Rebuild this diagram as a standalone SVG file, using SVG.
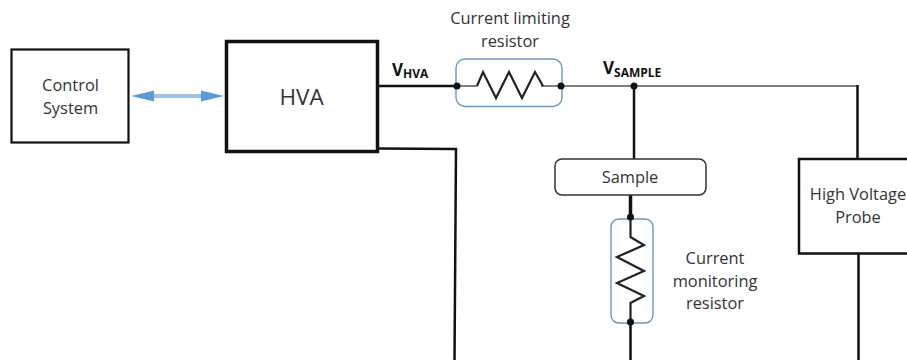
<svg xmlns="http://www.w3.org/2000/svg" width="907" height="360" viewBox="0 0 907 360">
<style>
text{font-family:"Open Sans","Noto Sans","Liberation Sans",sans-serif;fill:#333;font-size:16.400px;text-anchor:middle}
.w{fill:none;stroke:#111;stroke-width:2.500}
.t{fill:none;stroke:#555;stroke-width:1.500}
.r{fill:none;stroke:#222;stroke-width:2.200}
.h{fill:none;stroke:#6a97bd;stroke-width:1.400}
.d{fill:#111}
.b{font-weight:700;fill:#111;text-anchor:start}
</style>
<rect width="907" height="360" fill="#fff"/>
<g id="connectors">
<path class="w" d="M378 86H457"/>
<path class="t" d="M457 86H477M541 86H561"/>
<path class="t" d="M561 86H857"/>
<path class="w" d="M857.500 85V159"/>
<path class="w" d="M634 86V159"/>
<path d="M630.500 195V217" fill="none" stroke="#111" stroke-width="3.500"/>
<path class="w" d="M630.500 322V360"/>
<path class="w" d="M378 148.500L456 149L454.500 360"/>
<path class="w" d="M858.500 253V360"/>
<g id="arrow">
<path d="M150 96H205" fill="none" stroke="#9dc3e6" stroke-width="4"/>
<path d="M131 96L154 90.500V101.500Z" fill="#5b9bd5"/>
<path d="M224 96L201 90.500V101.500Z" fill="#5b9bd5"/>
</g>
</g>
<g id="control-system">
<rect x="11.500" y="49.500" width="117" height="93" fill="#fff" stroke="#111" stroke-width="2.200"/>
<text x="70.500" y="91">Control</text><text x="70.500" y="114">System</text>
</g>
<g id="hva">
<rect x="226.500" y="41.500" width="151" height="110" fill="#fff" stroke="#111" stroke-width="3.500"/>
<text x="301.500" y="105" style="font-size:22.500px">HVA</text>
</g>
<g id="current-limiting-resistor">
<rect x="456" y="59" width="106" height="47.500" rx="9" class="h"/>
<path class="r" d="M477 86L483 72L496 98L509 72L522 98L535 72L543 86"/>
<circle class="d" cx="457" cy="86" r="3.500"/><circle class="d" cx="561" cy="86" r="3.500"/>
<text x="510" y="24">Current limiting</text><text x="510" y="47">resistor</text>
</g>
<g id="v-hva"><text class="b" x="392" y="76" style="font-size:17px">V<tspan style="font-size:12px" dy="2">HVA</tspan></text></g>
<g id="v-sample"><text class="b" x="603" y="74" style="font-size:17px">V<tspan style="font-size:12px" dy="3">SAMPLE</tspan></text></g>
<circle class="d" cx="634" cy="86" r="3.500"/>
<g id="sample">
<rect x="555" y="159" width="151" height="36" rx="7" fill="#fff" stroke="#333" stroke-width="1.500"/>
<text x="630" y="183">Sample</text>
</g>
<g id="current-monitoring-resistor">
<rect x="611" y="219" width="42" height="104" rx="8" class="h"/>
<path class="r" d="M630.500 217V237L644 245L617 257L644 271L617 283L644 296L630.500 303V322"/>
<circle class="d" cx="630.500" cy="217" r="3.500"/><circle class="d" cx="630.500" cy="322" r="3.500"/>
<text x="715" y="264">Current</text><text x="715" y="287">monitoring</text><text x="715" y="309">resistor</text>
</g>
<g id="high-voltage-probe">
<rect x="799" y="159" width="120" height="94.500" fill="#fff" stroke="#111" stroke-width="2.500"/>
<text x="858" y="200">High Voltage</text><text x="858" y="223">Probe</text>
</g>
</svg>
